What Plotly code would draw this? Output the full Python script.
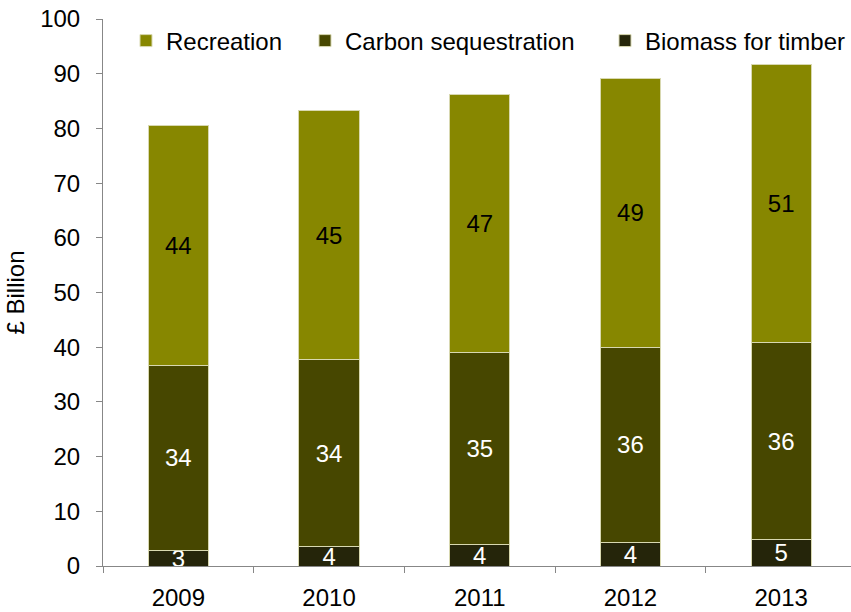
import plotly.graph_objects as go

# Natural capital asset values, £ billion
years = ["2009", "2010", "2011", "2012", "2013"]
biomass = [2.9, 3.5, 4.0, 4.3, 4.9]
carbon = [33.7, 34.3, 35.1, 35.7, 35.9]
recreation = [43.9, 45.4, 47.1, 49.1, 50.9]

font_family = "Liberation Sans, Arial, sans-serif"
fs = 24
edge = dict(color="#d8d8b0", width=1)

fig = go.Figure()
fig.add_trace(go.Bar(
    x=years, y=biomass, name="Biomass for timber",
    marker=dict(color="#25250a", line=edge),
    texttemplate="%{y:.0f}", textposition="inside", insidetextanchor="middle",
    textangle=0,
    textfont=dict(color="white", size=fs, family=font_family),
    legend="legend3", hoverinfo="skip",
))
fig.add_trace(go.Bar(
    x=years, y=carbon, name="Carbon sequestration",
    marker=dict(color="#474700", line=edge),
    texttemplate="%{y:.0f}", textposition="inside", insidetextanchor="middle",
    textangle=0,
    textfont=dict(color="white", size=fs, family=font_family),
    legend="legend2", hoverinfo="skip",
))
fig.add_trace(go.Bar(
    x=years, y=recreation, name="Recreation",
    marker=dict(color="#878700", line=edge),
    texttemplate="%{y:.0f}", textposition="inside", insidetextanchor="middle",
    textangle=0,
    textfont=dict(color="black", size=fs, family=font_family),
    legend="legend", hoverinfo="skip",
))

W, H = 851, 612
L, R, T, B = 103, 0, 19, 46
pw = W - L - R
ph = H - T - B


def legend_at(px_text_left, py_center):
    # place a legend so its label starts at the given pixel position
    x = (px_text_left - 40 - L) / pw
    y = 1 - (py_center - T) / ph
    return dict(
        x=x, y=y, xanchor="left", yanchor="middle", orientation="h",
        bgcolor="rgba(0,0,0,0)", borderwidth=0,
        font=dict(size=fs, family=font_family, color="black"),
        itemclick=False, itemdoubleclick=False,
    )


cat_w = 150.7
fig.update_layout(
    width=W, height=H,
    margin=dict(l=L, r=R, t=T, b=B, pad=0),
    paper_bgcolor="white", plot_bgcolor="white",
    barmode="stack", bargap=0.6,
    font=dict(family=font_family, size=fs, color="black"),
    uniformtext=dict(mode="show", minsize=fs),
    showlegend=True,
    legend=legend_at(166, 41),
    legend2=legend_at(345, 41),
    legend3=legend_at(645, 41),
    xaxis=dict(
        type="category", range=[-0.5, -0.5 + pw / cat_w],
        showline=True, linecolor="#878787", linewidth=1,
        ticks="outside", ticklen=6, tickcolor="#878787", tickson="boundaries",
        ticklabelstandoff=10,
        showgrid=False, zeroline=False,
        tickfont=dict(size=fs, family=font_family, color="black"),
    ),
    yaxis=dict(
        range=[0, 100], dtick=10, tick0=0,
        showline=True, linecolor="#878787", linewidth=1,
        ticks="outside", ticklen=6, tickcolor="#878787",
        ticklabelstandoff=11,
        showgrid=False, zeroline=False,
        tickfont=dict(size=fs, family=font_family, color="black"),
        title=dict(text="£ Billion", font=dict(size=fs, family=font_family, color="black"), standoff=8),
    ),
)

fig.write_html("out.html")
